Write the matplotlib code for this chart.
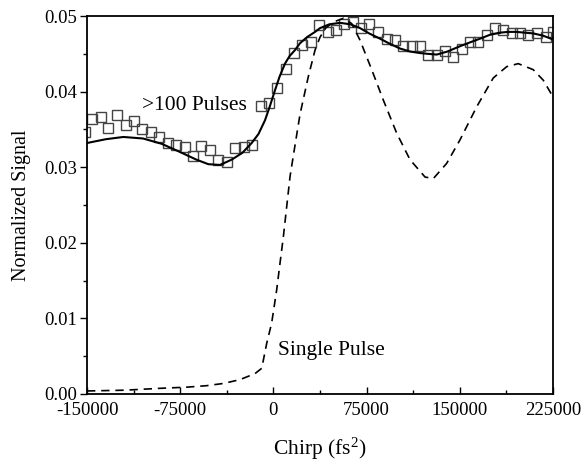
import matplotlib
matplotlib.use('Agg')
import matplotlib.pyplot as plt
from matplotlib.ticker import MultipleLocator, FormatStrFormatter

plt.rcParams['font.family'] = ['Liberation Serif', 'DejaVu Serif']
plt.rcParams['mathtext.fontset'] = 'custom'
plt.rcParams['mathtext.rm'] = 'Liberation Serif'
plt.rcParams['mathtext.it'] = 'Liberation Serif:italic'
plt.rcParams['mathtext.bf'] = 'Liberation Serif'
plt.rcParams['axes.unicode_minus'] = False

# >100 pulses, measured points (squares)
multi_x = [-152000, -145700, -139000, -132900, -125900, -118900, -112000, -105500,
           -98500, -91800, -85100, -78400, -71400, -64700, -58000, -51300, -44300,
           -37600, -30900, -23900, -17200, -10200, -3500, 3100, 9900, 16800, 23300,
           30300, 36900, 43700, 50400, 57100, 63800, 70500, 77200, 84400, 91200,
           97800, 104500, 111300, 118000, 124600, 131400, 138100, 144800, 151500,
           158200, 164900, 171600, 178300, 185000, 191800, 198400, 205100, 212400,
           219300, 225200]
multi_y = [0.0347, 0.0364, 0.0367, 0.0352, 0.0369, 0.0356, 0.0361, 0.0351,
           0.0346, 0.0340, 0.0332, 0.0329, 0.0327, 0.0315, 0.0328, 0.0323, 0.0310,
           0.0307, 0.0326, 0.0327, 0.0330, 0.0381, 0.0385, 0.0405, 0.0430, 0.0451, 0.0462,
           0.0465, 0.0488, 0.0479, 0.0481, 0.0490, 0.0492, 0.0484, 0.0490, 0.0479, 0.0470,
           0.0468, 0.0460, 0.0460, 0.0460, 0.0448, 0.0448, 0.0454, 0.0446, 0.0457,
           0.0466, 0.0466, 0.0475, 0.0484, 0.0481, 0.0477, 0.0477, 0.0475, 0.0477,
           0.0472, 0.0479]

# fit curve through the >100 pulses data
fit_x = [-150000, -135000, -120800, -105000, -90000, -75000, -62000, -52400, -43000,
         -33600, -25000, -17500, -12000, -6800, -3000, 1300, 5000, 9300, 13000, 17400,
         21400, 27000, 33500, 37500, 45000, 53600, 62000, 69700, 77000, 85800, 94000,
         101900, 110000, 118000, 124000, 131400, 140000, 150100, 158000, 166200, 174000,
         182300, 189000, 195800, 202000, 209100, 217000, 225000]
fit_y = [0.0332, 0.0337, 0.0340, 0.0338, 0.0331, 0.0320, 0.0310, 0.0304, 0.0303,
         0.0310, 0.0319, 0.0332, 0.0344, 0.0362, 0.0380, 0.0402, 0.0420, 0.0437, 0.0447,
         0.0455, 0.0464, 0.0472, 0.0479, 0.0484, 0.0489, 0.0491, 0.0489, 0.0484, 0.0477,
         0.0470, 0.0463, 0.0457, 0.0453, 0.0451, 0.0450, 0.0449, 0.0453, 0.0460, 0.0465,
         0.0470, 0.0475, 0.0478, 0.0479, 0.0479, 0.0478, 0.0477, 0.0474, 0.0469]

# single pulse curve (dashed)
single_x = [-150000, -120000, -91300, -70000, -53700, -40000, -26900, -14800, -9400,
            -5400, -1400, 2650, 5300, 8000, 10700, 13400, 16500, 21400, 28100, 33500,
            37500, 42000, 48200, 56300, 63000, 69700, 79100, 88400, 99200, 109900,
            122000, 128700, 139400, 150100, 163600, 176900, 187700, 197000, 209100,
            217200, 225000]
single_y = [0.0004, 0.0005, 0.00075, 0.0009, 0.0011, 0.0014, 0.0019, 0.0027, 0.0034,
            0.0067, 0.0094, 0.0138, 0.0173, 0.0208, 0.0248, 0.0288, 0.0320, 0.0370,
            0.0420, 0.0455, 0.0472, 0.0484, 0.0492, 0.0497, 0.0490, 0.0468, 0.0429,
            0.0389, 0.0345, 0.0310, 0.0287, 0.0285, 0.0305, 0.0336, 0.0380, 0.0418,
            0.0433, 0.0437, 0.0429, 0.0415, 0.0393]

fig = plt.figure(figsize=(5.88, 4.71), dpi=100)
ax = fig.add_axes([0.148, 0.1635, 0.7925, 0.8025])

ax.plot(multi_x, multi_y, linestyle='none', marker='s', markersize=7.5,
        markerfacecolor='none', markeredgecolor='#444444', markeredgewidth=1.0)
ax.plot(fit_x, fit_y, color='black', linewidth=1.5)
ax.plot(single_x, single_y, color='black', linewidth=1.2, linestyle=(0, (5, 3.5)))

ax.text(-105700, 0.0382, '>100 Pulses', fontsize=15.5, va='center', ha='left')
ax.text(3700, 0.0057, 'Single Pulse', fontsize=15.5, va='center', ha='left')

ax.set_xlim(-150000, 225000)
ax.set_ylim(0.0, 0.05)
ax.xaxis.set_major_locator(MultipleLocator(75000))
ax.xaxis.set_minor_locator(MultipleLocator(37500))
ax.yaxis.set_major_locator(MultipleLocator(0.01))
ax.yaxis.set_minor_locator(MultipleLocator(0.005))
ax.yaxis.set_major_formatter(FormatStrFormatter('%.2f'))

ax.tick_params(axis='x', which='major', direction='in', length=5, width=1, labelsize=13.5, pad=6)
ax.tick_params(axis='x', which='minor', direction='in', length=3, width=1)
ax.tick_params(axis='y', which='major', direction='out', length=5, width=1, labelsize=13.5, pad=2)
ax.tick_params(axis='y', which='minor', direction='out', length=3, width=1)

for s in ax.spines.values():
    s.set_linewidth(1.3)

ax.set_xlabel(r'Chirp (fs$^{2}$)', fontsize=15.5, labelpad=12)
ax.set_ylabel('Normalized Signal', fontsize=14.5, labelpad=10)

fig.savefig('out.png', dpi=100)
